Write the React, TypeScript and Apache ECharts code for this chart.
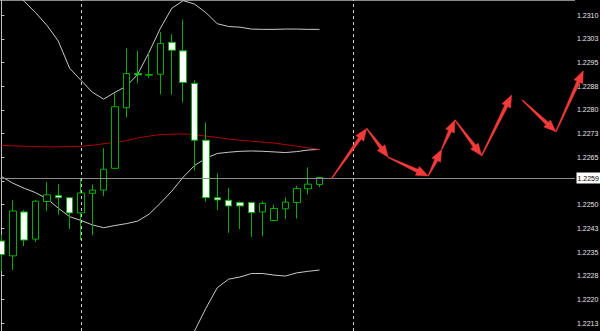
import React, { useEffect, useRef } from 'react';
import * as echarts from 'echarts';

// 51 bar slots on the time axis (29 candles + forecast area)
const categories = Array.from({ length: 51 }, (_, i) => `bar${i}`);

const opens = [1.22385, 1.22338, 1.22477, 1.22391, 1.22510, 1.22529, 1.22522, 1.22474, 1.22536, 1.22546,
  1.22615, 1.22807, 1.22915, 1.22910, 1.22913, 1.23014, 1.22987, 1.22884, 1.22704, 1.22522,
  1.22514, 1.22507, 1.22507, 1.22477, 1.22450, 1.22487, 1.22507, 1.22550, 1.22564];
const closes = [1.22342, 1.22480, 1.22388, 1.22511, 1.22531, 1.22522, 1.22474, 1.22537, 1.22546, 1.22612,
  1.22810, 1.22915, 1.22911, 1.22912, 1.23010, 1.22989, 1.22887, 1.22704, 1.22522, 1.22515,
  1.22496, 1.22496, 1.22475, 1.22504, 1.22488, 1.22508, 1.22551, 1.22565, 1.22586];
const lows = [1.22290, 1.22293, 1.22369, 1.22382, 1.22480, 1.22469, 1.22423, 1.22388, 1.22404, 1.22527,
  1.22612, 1.22776, 1.22884, 1.22902, 1.22849, 1.22849, 1.22824, 1.22609, 1.22509, 1.22483,
  1.22411, 1.22423, 1.22398, 1.22400, 1.22448, 1.22455, 1.22456, 1.22533, 1.22555];
const highs = [1.22404, 1.22514, 1.22483, 1.22514, 1.22571, 1.22565, 1.22523, 1.22584, 1.22564, 1.22679,
  1.22852, 1.22995, 1.22987, 1.22984, 1.23047, 1.23040, 1.23086, 1.22894, 1.22760, 1.22599,
  1.22553, 1.22510, 1.22509, 1.22511, 1.22500, 1.22523, 1.22559, 1.22618, 1.22587];

const upperBand = [1.23211, 1.23179, 1.23144, 1.23108, 1.23068, 1.23018, 1.22932, 1.22894, 1.22856, 1.22834,
  1.22856, 1.22875, 1.22913, 1.22983, 1.23059, 1.23122, 1.23146, 1.23135, 1.23108, 1.23073,
  1.23064, 1.23062, 1.23056, 1.23055, 1.23055, 1.23056, 1.23056, 1.23055, 1.23055];
const middleBand = [1.22589, 1.22568, 1.22552, 1.22538, 1.22519, 1.22489, 1.22462, 1.22450, 1.22436, 1.22427,
  1.22434, 1.22440, 1.22448, 1.22470, 1.22505, 1.22543, 1.22587, 1.22624, 1.22647, 1.22662,
  1.22666, 1.22669, 1.22670, 1.22669, 1.22667, 1.22665, 1.22668, 1.22673, 1.22675];
const lowerBand = [1.21967, 1.21957, 1.21960, 1.21967, 1.21970, 1.21960, 1.21992, 1.22005, 1.22017, 1.22021,
  1.22011, 1.22005, 1.21983, 1.21957, 1.21951, 1.21964, 1.22027, 1.22100, 1.22172, 1.22237,
  1.22264, 1.22271, 1.22282, 1.22282, 1.22277, 1.22274, 1.22284, 1.22289, 1.22293];
const slowMA = [1.22688, 1.22686, 1.22685, 1.22684, 1.22683, 1.22683, 1.22684, 1.22685, 1.22688, 1.22693,
  1.22697, 1.22703, 1.22711, 1.22717, 1.22722, 1.22723, 1.22724, 1.22722, 1.22717, 1.22713,
  1.22708, 1.22704, 1.22701, 1.22698, 1.22695, 1.22690, 1.22685, 1.22680, 1.22675];

// forecast arrows (bar position, price)
const forecastA_X = [29.07, 32.16, 34.06, 37.58, 38.76, 39.93, 42.28, 44.92];
const forecastA_Y = [1.22583, 1.22741, 1.22650, 1.22591, 1.22675, 1.22768, 1.22655, 1.22847];
const forecastB_X = [45.86, 48.82, 51.23];
const forecastB_Y = [1.22831, 1.22731, 1.22924];

const separatorBars = [7, 31];

const tickValues = [1.22125, 1.222, 1.22275, 1.2235, 1.22425, 1.225, 1.22575, 1.2265, 1.22725, 1.228, 1.22875, 1.2295, 1.23025, 1.231];
const tickLabels = ['1.2213', '1.2220', '1.2228', '1.2235', '1.2243', '1.2250', '1.2258', '1.2265', '1.2273', '1.2280', '1.2288', '1.2295', '1.2303', '1.2310'];

const LABEL_FONT = '"Liberation Sans", sans-serif';

function segmentsOf(xs: number[], ys: number[]) {
  const out: number[][] = [];
  for (let i = 0; i < xs.length - 1; i++) out.push([xs[i], ys[i], xs[i + 1], ys[i + 1]]);
  return out;
}

export default function App() {
  const ref = useRef<HTMLDivElement>(null);
  useEffect(() => {
    document.body.style.margin = '0';
    document.body.style.background = '#000';
    const chart = echarts.init(ref.current!, null, { renderer: 'svg' });
    const candles = opens.map((o, i) => [o, closes[i], lows[i], highs[i]]);
    const lastClose = closes[closes.length - 1];
    const arrowData = [...segmentsOf(forecastA_X, forecastA_Y), ...segmentsOf(forecastB_X, forecastB_Y)];
    const bandLine = (data: number[], color: string, extra: any = {}) => ({
      type: 'line', data, showSymbol: false, symbol: 'none', silent: true,
      lineStyle: { color, width: 1 }, z: 1, ...extra,
    });
    chart.setOption({
      animation: false,
      backgroundColor: '#000',
      grid: { left: -4.2, right: 25, top: 0, bottom: 0, outerBoundsMode: 'none', containLabel: false },
      xAxis: [
        { type: 'category', data: categories, boundaryGap: true, show: false },
        { type: 'value', min: -0.5, max: 50.5, show: false },
      ],
      yAxis: {
        type: 'value', position: 'right', min: 1.221, max: 1.23148,
        splitLine: { show: false },
        axisLine: { show: true, lineStyle: { color: '#c0c0c0', width: 1 } },
        axisTick: { show: true, customValues: tickValues, length: 3, lineStyle: { color: '#c0c0c0' } },
        axisLabel: {
          customValues: tickValues, color: '#e6e6e6', fontSize: 7, fontFamily: LABEL_FONT, margin: 2,
          formatter: (v: number) => {
            const k = tickValues.findIndex((t) => Math.abs(t - v) < 1e-7);
            return k >= 0 ? tickLabels[k] : v.toFixed(4);
          },
        },
      },
      graphic: [
        { type: 'line', shape: { x1: 0, y1: 0.5, x2: 575, y2: 0.5 }, style: { stroke: '#8a8a8a', lineWidth: 1 }, silent: true },
        { type: 'line', shape: { x1: 1.5, y1: 0, x2: 1.5, y2: 331 }, style: { stroke: '#8a8a8a', lineWidth: 1, lineDash: [1, 2] }, silent: true },
      ],
      series: [
        bandLine(upperBand, '#c8c8c8'),
        bandLine(middleBand, '#c8c8c8', {
          markLine: {
            silent: true, symbol: ['none', 'none'], label: { show: false },
            lineStyle: { color: '#d0d0d0', type: [3, 3], width: 1 },
            data: separatorBars.map((b) => ({ xAxis: b })),
          },
        }),
        bandLine(lowerBand, '#c8c8c8'),
        bandLine(slowMA, '#b00000'),
        {
          type: 'candlestick', data: candles, barWidth: 7, z: 3,
          itemStyle: { color: '#000', color0: '#fff', borderColor: '#00b000', borderColor0: '#00b000', borderWidth: 1 },
        },
        {
          // current price line with its label box on the axis
          type: 'custom', xAxisIndex: 1, clip: false, z: 4, silent: true,
          data: [[0, lastClose]], encode: { x: 0, y: 1 },
          renderItem: (params: any, api: any) => {
            const v = api.value(1);
            const y = Math.round(api.coord([0, v])[1]) + 0.5;
            const xl = api.coord([-0.5, v])[0];
            const xr = api.coord([50.5, v])[0];
            return {
              type: 'group',
              children: [
                { type: 'line', shape: { x1: Math.max(0, xl), y1: y, x2: xr, y2: y }, style: { stroke: '#8c8c8c', lineWidth: 1 } },
                { type: 'rect', shape: { x: xr + 1.5, y: y - 6, width: 30, height: 11 }, style: { fill: '#ffffff' } },
                {
                  type: 'text', x: xr + 2.5, y: y,
                  style: { text: Number(v).toFixed(4), fill: '#000', fontSize: 7, fontFamily: LABEL_FONT, verticalAlign: 'middle', align: 'left' },
                },
              ],
            };
          },
        },
        {
          type: 'custom', xAxisIndex: 1, clip: false, z: 5, data: arrowData,
          encode: { x: [0, 2], y: [1, 3] },
          renderItem: (params: any, api: any) => {
            const p1 = api.coord([api.value(0), api.value(1)]);
            const p2 = api.coord([api.value(2), api.value(3)]);
            const dx = p2[0] - p1[0], dy = p2[1] - p1[1];
            const len = Math.hypot(dx, dy) || 1;
            const ux = dx / len, uy = dy / len, nx = -uy, ny = ux;
            const headLen = Math.min(12, len * 0.5), headHalf = 4.8;
            const bx = p2[0] - ux * headLen, by = p2[1] - uy * headLen;
            const pts = [
              [p1[0] + nx * 0.4, p1[1] + ny * 0.4],
              [bx + nx * 1.7, by + ny * 1.7],
              [bx + nx * headHalf, by + ny * headHalf],
              [p2[0], p2[1]],
              [bx - nx * headHalf, by - ny * headHalf],
              [bx - nx * 1.7, by - ny * 1.7],
              [p1[0] - nx * 0.4, p1[1] - ny * 0.4],
            ];
            return { type: 'polygon', shape: { points: pts }, style: { fill: '#f23a3a', stroke: '#f23a3a', lineWidth: 0.5 } };
          },
        },
      ],
    });
    return () => chart.dispose();
  }, []);
  return <div ref={ref} style={{ position: 'fixed', left: 0, top: 0, width: 600, height: 331, background: '#000' }} />;
}
